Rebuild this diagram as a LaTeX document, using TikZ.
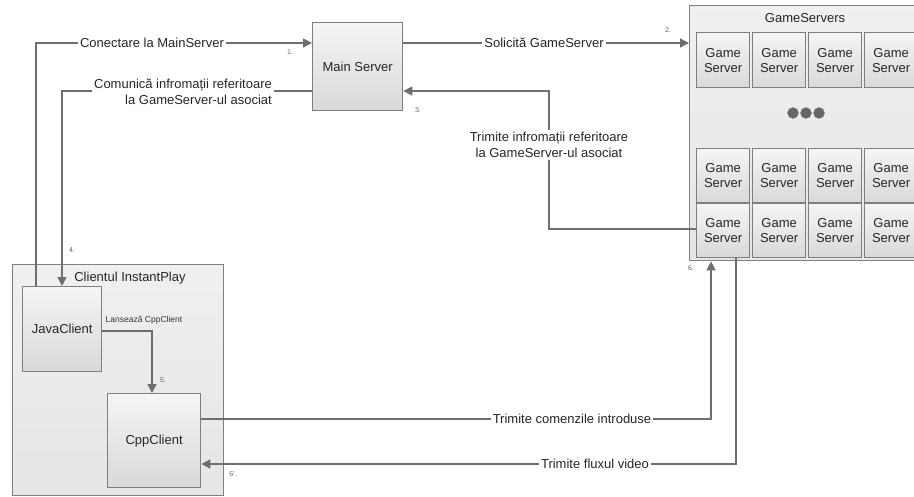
\documentclass[tikz,border=0pt]{standalone}
\usepackage{fontspec}
\setmainfont{Liberation Sans}
\usetikzlibrary{arrows.meta,calc}
\definecolor{linec}{HTML}{6E6E6E}
\definecolor{borderc}{HTML}{7F7F7F}
\tikzset{
  conn/.style={draw=linec, line width=1.3pt},
  arr/.style={conn, -{Triangle[length=9pt,width=9pt]}},
  box/.style={draw=borderc, line width=1.3pt, rectangle, inner sep=0pt,
    top color=white!96!black, bottom color=white!85!black,
    font=\fontsize{13}{15}\selectfont, align=center, text=black!85},
  gsbox/.style={box, minimum width=53pt, minimum height=54pt},
  container/.style={draw=borderc, line width=1.3pt, rectangle, inner sep=0pt,
    top color=white!94!black, bottom color=white!90!black},
  lbl/.style={fill=white, inner sep=2pt, font=\fontsize{13}{16}\selectfont, text=black!85},
  num/.style={inner sep=0pt, font=\fontsize{7}{8}\selectfont, text=black!60},
  ttl/.style={inner sep=0pt, font=\fontsize{13}{15}\selectfont, text=black!85},
  dot/.style={circle, fill=black!60, draw=black!50, inner sep=0pt, minimum size=11pt}
}
\begin{document}
\begin{tikzpicture}[x=1pt,y=-1pt]
\useasboundingbox (0,0) rectangle (914,496);
\fill[white] (0,0) rectangle (914,496);

% containers
\node[container, minimum width=233pt, minimum height=255pt, anchor=north west] (gsc) at (689,5) {};
\node[ttl] (gsct) at (805,18) {GameServers};
\node[container, minimum width=211pt, minimum height=231pt, anchor=north west] (cc) at (12,264) {};
\node[ttl] (cct) at (130,278) {Clientul InstantPlay};

% main server
\node[box, minimum width=90pt, minimum height=88pt, anchor=north west] (ms) at (312,22) {Main Server};

% game servers
\foreach \c/\x in {1/696,2/752,3/808,4/864}{
  \node[gsbox, minimum height=55pt, anchor=north west] (g1\c) at (\x,32) {Game\\Server};
  \node[gsbox, anchor=north west] (g3\c) at (\x,148) {Game\\Server};
  \node[gsbox, anchor=north west] (g4\c) at (\x,203) {Game\\Server};
}
\node[dot] (d1) at (793,113) {};
\node[dot] (d2) at (806,113) {};
\node[dot] (d3) at (819,113) {};

% clients
\node[box, minimum width=79pt, minimum height=85pt, anchor=north west] (java) at (22,286) {JavaClient};
\node[box, minimum width=93pt, minimum height=94pt, anchor=north west] (cpp) at (107,393) {CppClient};

% connector coordinates
\coordinate (c1) at (36,43);
\coordinate (c3) at (549,91);
\coordinate (c4) at (62,91);
\coordinate (c5) at (152,331);
\coordinate (c6) at (711,419);
\coordinate (c7) at (736,464);

% 1
\draw[arr] (java.north -| c1) -- (c1) -- (ms.west |- c1);
\node[lbl] (l1) at (152,43) {Conectare la MainServer};
\node[num] (n1) at (290,52) {1.};
% 2
\draw[arr] (ms.east |- c1) -- (gsc.west |- c1);
\node[lbl] (l2) at (544,43) {Solicită GameServer};
\node[num] (n2) at (668,30) {2.};
% 3
\draw[arr] (g41.west |- 0,229) -| (c3) -- (ms.east |- c3);
\node[lbl, align=center] (l3) at (549,145) {Trimite infromații referitoare\\la GameServer-ul asociat};
\node[num] (n3) at (418,110) {3.};
% 4
\draw[arr] (ms.west |- c4) -- (c4) -- (java.north -| c4);
\node[lbl, align=right] (l4) at (183,92) {Comunică infromații referitoare\\la GameServer-ul asociat};
\node[num] (n4) at (72,250) {4.};
% 5
\draw[arr] (java.east |- c5) -- (c5) -- (cpp.north -| c5);
\node[inner sep=0pt, font=\fontsize{8.5}{10}\selectfont, text=black!80] (l5) at (144,320) {Lansează CppClient};
\node[num] (n5) at (163,380) {5.};
% 6
\draw[arr] (cpp.east |- c6) -- (c6) -- (gsc.south -| c6);
\node[lbl] (l6) at (572,419) {Trimite comenzile introduse};
\node[num] (n6) at (691,268) {6.};
% 6'
\draw[arr] (g41.south -| c7) -- (c7) -- (cpp.east |- c7);
\node[lbl] (l7) at (595,464) {Trimite fluxul video};
\node[num] (n7) at (233,474) {6'.};
\end{tikzpicture}
\end{document}
